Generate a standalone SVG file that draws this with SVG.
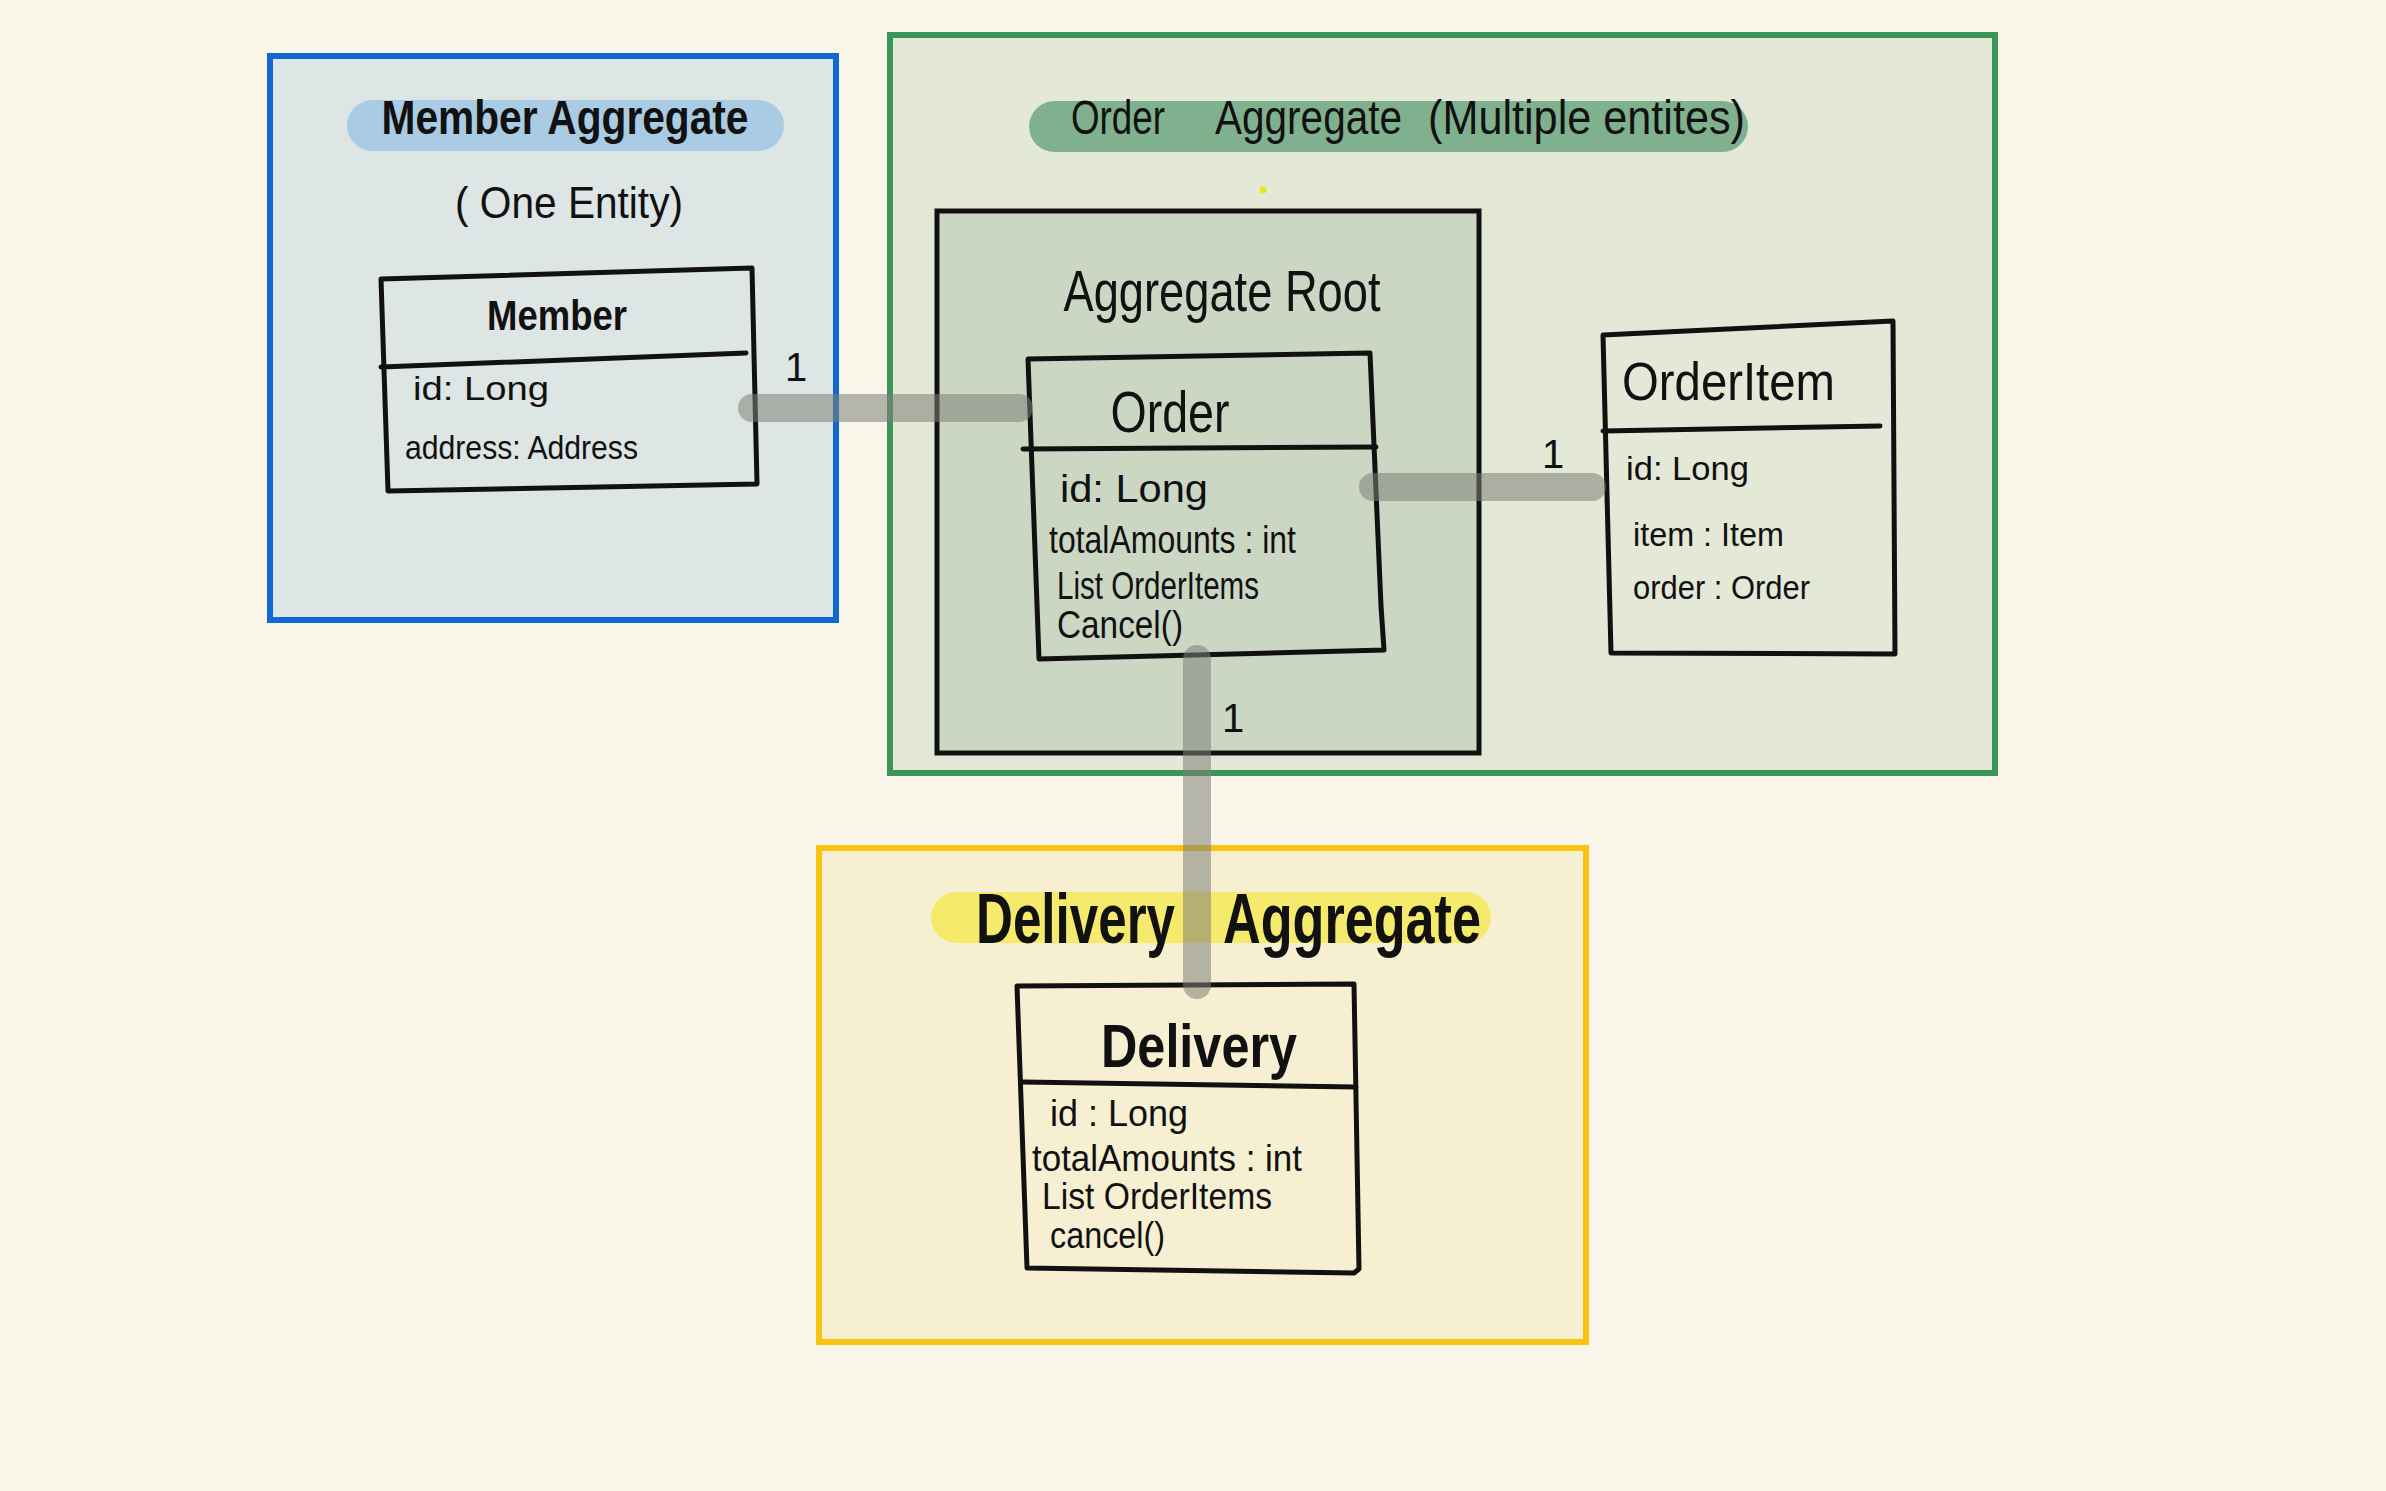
<svg xmlns="http://www.w3.org/2000/svg" width="2386" height="1491" viewBox="0 0 2386 1491">
<style>
.hand{font-family:"Liberation Sans","DejaVu Sans",sans-serif;fill:#111}
.b{font-weight:bold}
.cls{fill:none;stroke:#111;stroke-width:5;stroke-linejoin:round;stroke-linecap:round}
.conn{stroke:#7d8078;stroke-opacity:0.55;stroke-width:28;stroke-linecap:round;fill:none}
.one{font-family:"Liberation Sans",sans-serif;font-size:40px;fill:#111}
</style>
<rect width="2386" height="1491" fill="#f9f6e9"/>

<g id="member-aggregate">
<rect x="270" y="56" width="566" height="564" fill="#dde6e4" stroke="#1068d0" stroke-width="6"/>
<rect x="347" y="100" width="437" height="51" rx="25.5" fill="#a9cbe4"/>
<text class="hand b" x="565" y="134" font-size="48" text-anchor="middle" textLength="367" lengthAdjust="spacingAndGlyphs">Member Aggregate</text>
<text class="hand" x="569" y="218" font-size="44" text-anchor="middle" textLength="228" lengthAdjust="spacingAndGlyphs">( One Entity)</text>
</g>

<g id="order-aggregate">
<rect x="890" y="35" width="1105" height="738" fill="#e3e9d6" stroke="#3a9658" stroke-width="6"/>
<rect x="1029" y="101" width="719" height="51" rx="25.5" fill="#80b18f"/>
<text class="hand" y="134" font-size="48"><tspan x="1071" textLength="94" lengthAdjust="spacingAndGlyphs">Order</tspan> <tspan x="1215" textLength="187" lengthAdjust="spacingAndGlyphs">Aggregate</tspan> <tspan x="1428" textLength="317" lengthAdjust="spacingAndGlyphs">(Multiple entites)</tspan></text>
<circle cx="1263" cy="190" r="3.5" fill="#e8e817"/>
</g>

<g id="aggregate-root">
<rect x="937" y="211" width="542" height="542" fill="#cbd6c3" stroke="#111" stroke-width="5"/>
<text class="hand" x="1222" y="311" font-size="58" text-anchor="middle" textLength="317" lengthAdjust="spacingAndGlyphs">Aggregate Root</text>
</g>

<g id="delivery-aggregate">
<rect x="819" y="848" width="767" height="494" fill="#f6efd1" stroke="#f7c414" stroke-width="6"/>
<rect x="931" y="892" width="560" height="51" rx="25.5" fill="#f5ea6b"/>
<text class="hand b" y="943" font-size="70" fill="#1f170a"><tspan x="976" textLength="199" lengthAdjust="spacingAndGlyphs">Delivery</tspan> <tspan x="1223" textLength="258" lengthAdjust="spacingAndGlyphs">Aggregate</tspan></text>
</g>

<g id="member">
<path class="cls" d="M381,279 L752,268 L757,484 L388,491 Z"/>
<path class="cls" d="M381,367 L746,353"/>
<text class="hand b" x="557" y="330" font-size="42" text-anchor="middle" textLength="140" lengthAdjust="spacingAndGlyphs">Member</text>
<text class="hand" x="413" y="400" font-size="34" textLength="136" lengthAdjust="spacingAndGlyphs">id:  Long</text>
<text class="hand" x="405" y="459" font-size="34" textLength="233" lengthAdjust="spacingAndGlyphs">address:  Address</text>
</g>

<g id="order">
<path class="cls" d="M1028,359 L1370,353 L1381,606 L1384,650 L1039,659 Z"/>
<path class="cls" d="M1023,449 L1376,447"/>
<text class="hand" x="1170" y="432" font-size="58" text-anchor="middle" textLength="119" lengthAdjust="spacingAndGlyphs">Order</text>
<text class="hand" x="1060" y="502" font-size="38" textLength="148" lengthAdjust="spacingAndGlyphs">id:  Long</text>
<text class="hand" x="1049" y="553" font-size="38" textLength="247" lengthAdjust="spacingAndGlyphs">totalAmounts : int</text>
<text class="hand" x="1057" y="599" font-size="38" textLength="202" lengthAdjust="spacingAndGlyphs">List OrderItems</text>
<text class="hand" x="1057" y="638" font-size="38" textLength="126" lengthAdjust="spacingAndGlyphs">Cancel()</text>
</g>

<g id="order-item">
<path class="cls" d="M1603,335 L1893,321 L1895,654 L1611,653 Z"/>
<path class="cls" d="M1603,431 L1880,426"/>
<text class="hand" x="1622" y="400" font-size="54" textLength="213" lengthAdjust="spacingAndGlyphs">OrderItem</text>
<text class="hand" x="1626" y="480" font-size="34" textLength="123" lengthAdjust="spacingAndGlyphs">id: Long</text>
<text class="hand" x="1633" y="546" font-size="34" textLength="151" lengthAdjust="spacingAndGlyphs">item : Item</text>
<text class="hand" x="1633" y="599" font-size="34" textLength="177" lengthAdjust="spacingAndGlyphs">order : Order</text>
</g>

<g id="delivery">
<path class="cls" d="M1017,986 L1354,984 L1359,1269 L1354,1273 L1027,1268 Z" stroke="#1f170a"/>
<path class="cls" d="M1022,1082 L1356,1087" stroke="#1f170a"/>
<text class="hand b" x="1199" y="1067" font-size="62" text-anchor="middle" textLength="196" lengthAdjust="spacingAndGlyphs" fill="#1f170a">Delivery</text>
<text class="hand" x="1050" y="1126" font-size="36" textLength="138" lengthAdjust="spacingAndGlyphs" fill="#1f170a">id :  Long</text>
<text class="hand" x="1032" y="1171" font-size="36" textLength="270" lengthAdjust="spacingAndGlyphs" fill="#1f170a">totalAmounts : int</text>
<text class="hand" x="1042" y="1209" font-size="36" textLength="230" lengthAdjust="spacingAndGlyphs" fill="#1f170a">List OrderItems</text>
<text class="hand" x="1050" y="1248" font-size="36" textLength="115" lengthAdjust="spacingAndGlyphs" fill="#1f170a">cancel()</text>
</g>

<g id="connectors">
<line class="conn" x1="752" y1="408" x2="1019" y2="408"/>
<line class="conn" x1="1373" y1="487" x2="1592" y2="487"/>
<line class="conn" x1="1197" y1="659" x2="1197" y2="985"/>
<text class="one" x="796" y="381" text-anchor="middle">1</text>
<text class="one" x="1553" y="468" text-anchor="middle">1</text>
<text class="one" x="1233" y="732" text-anchor="middle">1</text>
</g>
</svg>
